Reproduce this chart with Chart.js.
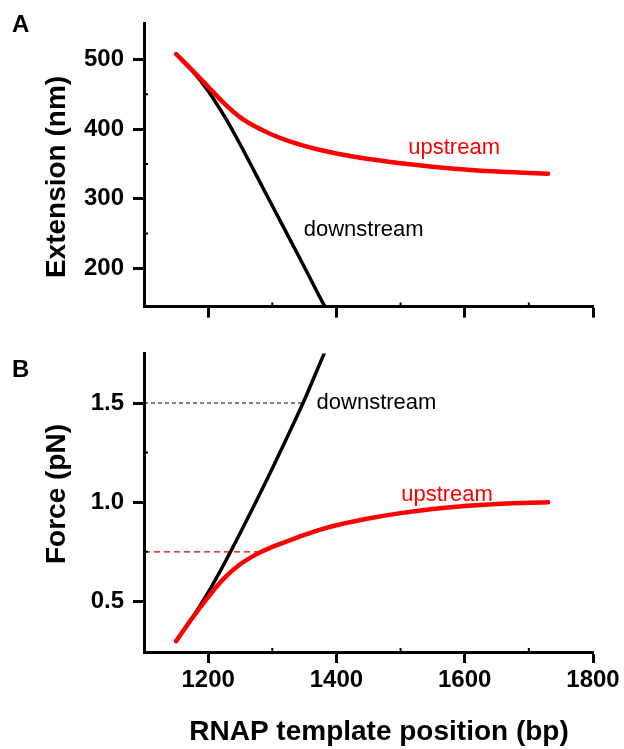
<!DOCTYPE html>
<html>
<head>
<meta charset="utf-8">
<title>RNAP template position</title>
<script src="https://cdn.jsdelivr.net/npm/chart.js@4.4.1/dist/chart.umd.min.js"></script>
<style>
  html, body { margin: 0; padding: 0; background: #fff; }
  #wrap { position: relative; width: 624px; height: 749px; }
  #wrap canvas { position: absolute; left: 0; }
</style>
</head>
<body>
<div id="wrap">
  <canvas id="extChart" width="624" height="330" style="top:0"></canvas>
  <canvas id="forceChart" width="624" height="419" style="top:330px"></canvas>
</div>
<script>
// Template position (bp) shared by both panels
const xTicks = [1200, 1400, 1600, 1800];
const xMinor = [1300, 1500, 1700];

// Panel A: extension (nm)
const extUpPos   = [1150, 1175, 1200, 1225, 1250, 1275, 1300, 1325, 1350, 1375, 1400, 1450, 1500, 1550, 1600, 1650, 1700, 1730];
const extUpVal   = [508, 485, 461, 437, 417, 403, 392, 383, 376, 370, 365, 357, 351, 346, 342, 339, 337, 336];
const extDownPos = [1150, 1175, 1200, 1225, 1250, 1275, 1300, 1325, 1350, 1375, 1382];
const extDownVal = [508, 484, 455, 419, 378, 334, 290, 246, 202, 157, 145];
const extTicks = [200, 300, 400, 500];
const extMinor = [250, 350, 450];

// Panel B: force (pN)
const forceUpPos   = [1150, 1175, 1200, 1225, 1250, 1275, 1300, 1325, 1350, 1375, 1400, 1450, 1500, 1550, 1600, 1650, 1700, 1730];
const forceUpVal   = [0.30, 0.415, 0.522, 0.617, 0.687, 0.737, 0.775, 0.805, 0.835, 0.862, 0.884, 0.918, 0.945, 0.966, 0.981, 0.991, 0.997, 1.0];
const forceDownPos = [1150, 1175, 1200, 1225, 1250, 1275, 1300, 1325, 1350, 1375, 1381];
const forceDownVal = [0.30, 0.415, 0.545, 0.69, 0.845, 1.005, 1.17, 1.34, 1.515, 1.705, 1.75];
const forceTicks = [0.5, 1.0, 1.5];
const forceMinor = [0.75, 1.25];

// dashed guides: force level and where it meets the curve
const guideDownPos = [1100, 1348];
const guideDownVal = [1.5, 1.5];
const guideUpPos   = [1100, 1282];
const guideUpVal   = [0.75, 0.75];

const FONT = '"Liberation Sans", Arial, Helvetica, sans-serif';
Chart.defaults.font.family = FONT;
Chart.defaults.color = '#000';

const pts = (xs, ys) => xs.map((x, i) => ({ x, y: ys[i] }));

function curve(xs, ys, color, width) {
  return {
    data: pts(xs, ys), borderColor: color, borderWidth: width,
    pointRadius: 0, cubicInterpolationMode: 'monotone',
    borderCapStyle: 'round', borderJoinStyle: 'round', fill: false
  };
}
function guide(xs, ys, color, dash) {
  return {
    data: pts(xs, ys), borderColor: color, borderWidth: 1.2,
    borderDash: dash, pointRadius: 0, tension: 0, fill: false
  };
}

function xScale(showLabels, h) {
  return {
    type: 'linear', min: 1100, max: 1800,
    afterBuildTicks: s => { s.ticks = xTicks.map(v => ({ value: v })); },
    afterFit: s => { s.height = h; },
    border: { display: true, color: '#000', width: 3 },
    grid: { display: true, drawOnChartArea: false, drawTicks: true, tickLength: 11, tickWidth: 3, tickColor: '#000' },
    ticks: { display: showLabels, padding: 3, maxRotation: 0, autoSkip: false,
             font: { size: 24, weight: 'bold' }, callback: v => String(v) }
  };
}
function yScale(min, max, ticks, fmt) {
  return {
    type: 'linear', min, max,
    afterBuildTicks: s => { s.ticks = ticks.map(v => ({ value: v })); },
    afterFit: s => { s.width = 144; },
    border: { display: true, color: '#000', width: 3 },
    grid: { display: true, drawOnChartArea: false, drawTicks: true, tickLength: 11, tickWidth: 3, tickColor: '#000' },
    ticks: { padding: 9, font: { size: 24, weight: 'bold' }, callback: fmt }
  };
}

// small inward minor ticks plus free text (curve names, axis titles, panel letter)
const decor = {
  id: 'decor',
  afterDraw(chart, args, o) {
    const { ctx, chartArea: ca, scales: { x, y } } = chart;
    ctx.save();
    ctx.strokeStyle = '#000';
    ctx.lineWidth = 2;
    ctx.beginPath();
    o.xMinor.forEach(v => { const p = x.getPixelForValue(v); ctx.moveTo(p, ca.bottom); ctx.lineTo(p, ca.bottom - 4); });
    o.yMinor.forEach(v => { const p = y.getPixelForValue(v); ctx.moveTo(ca.left, p); ctx.lineTo(ca.left + 4, p); });
    ctx.stroke();

    ctx.textAlign = 'left';
    ctx.textBaseline = 'alphabetic';
    o.notes.forEach(n => {
      ctx.fillStyle = n.color;
      ctx.font = '22px ' + FONT;
      ctx.fillText(n.text, x.getPixelForValue(n.x), y.getPixelForValue(n.y));
    });

    ctx.fillStyle = '#000';
    ctx.font = 'bold 24px ' + FONT;
    ctx.fillText(o.letter, 12, o.letterY);

    ctx.font = 'bold 28px ' + FONT;
    ctx.textAlign = 'center';
    ctx.textBaseline = 'middle';
    ctx.save();
    ctx.translate(57, o.yTitleY);
    ctx.rotate(-Math.PI / 2);
    ctx.fillText(o.yTitle, 0, 0);
    ctx.restore();
    if (o.xTitle) {
      ctx.textBaseline = 'alphabetic';
      ctx.fillText(o.xTitle, 379, o.xTitleY);
    }
    ctx.restore();
  }
};

const common = {
  responsive: false, animation: false, events: [],
  plugins: { legend: { display: false }, tooltip: { enabled: false } }
};

new Chart(document.getElementById('extChart'), {
  type: 'line',
  data: {
    datasets: [
      curve(extUpPos, extUpVal, '#ff0000', 4.5),
      curve(extDownPos, extDownVal, '#000000', 3.5)
    ]
  },
  options: {
    ...common,
    layout: { padding: { top: 10, right: 31, left: 0, bottom: 0 } },
    scales: {
      x: xScale(false, 20),
      y: yScale(145, 552, extTicks, v => String(v))
    },
    plugins: {
      ...common.plugins,
      decor: {
        xMinor, yMinor: extMinor, letter: 'A', letterY: 32,
        yTitle: 'Extension (nm)', yTitleY: 177,
        notes: [
          { text: 'upstream', x: 1512, y: 364, color: '#ff0000' },
          { text: 'downstream', x: 1349, y: 246, color: '#000000' }
        ]
      }
    }
  },
  plugins: [decor]
});

new Chart(document.getElementById('forceChart'), {
  type: 'line',
  data: {
    datasets: [
      curve(forceUpPos, forceUpVal, '#ff0000', 4.5),
      curve(forceDownPos, forceDownVal, '#000000', 3.5),
      guide(guideDownPos, guideDownVal, '#000000', [4, 3]),
      guide(guideUpPos, guideUpVal, '#e00000', [6, 4])
    ]
  },
  options: {
    ...common,
    layout: { padding: { top: 22, right: 31, left: 0, bottom: 0 } },
    scales: {
      x: xScale(true, 97),
      y: yScale(0.245, 1.75, forceTicks, v => v.toFixed(1))
    },
    plugins: {
      ...common.plugins,
      decor: {
        xMinor, yMinor: forceMinor, letter: 'B', letterY: 47,
        yTitle: 'Force (pN)', yTitleY: 164,
        xTitle: 'RNAP template position (bp)', xTitleY: 410,
        notes: [
          { text: 'downstream', x: 1369, y: 1.47, color: '#000000' },
          { text: 'upstream', x: 1501, y: 1.008, color: '#ff0000' }
        ]
      }
    }
  },
  plugins: [decor]
});
</script>
</body>
</html>
